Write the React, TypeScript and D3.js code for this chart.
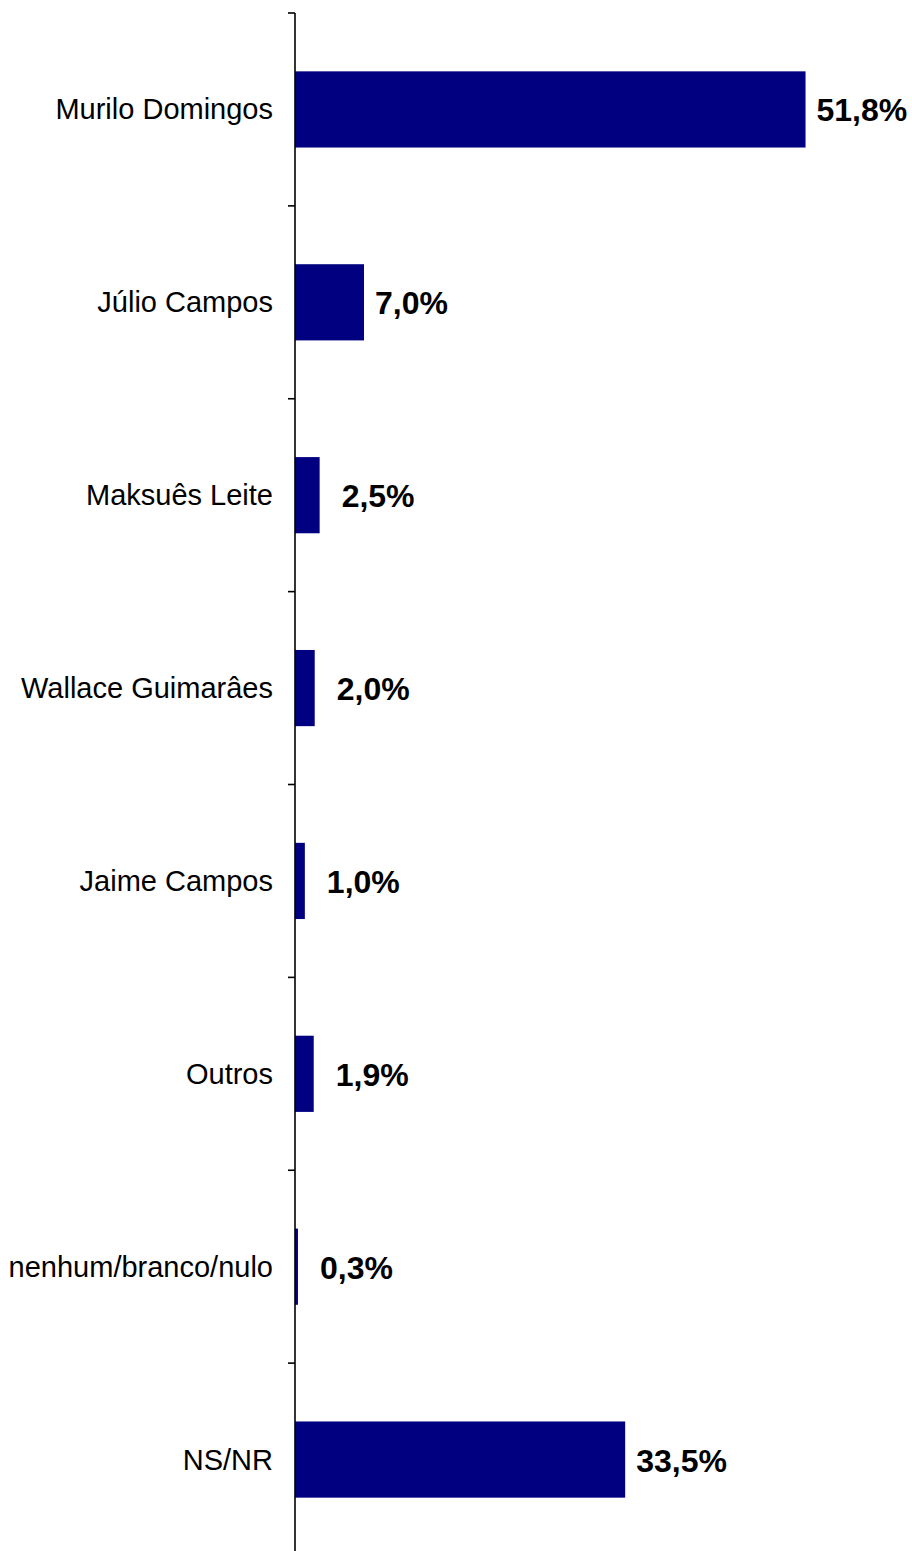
import React from "react";
import * as d3 from "d3";

const categories = [
  "Murilo Domingos",
  "Júlio Campos",
  "Maksuês Leite",
  "Wallace Guimarâes",
  "Jaime Campos",
  "Outros",
  "nenhum/branco/nulo",
  "NS/NR",
];
const values = [51.8, 7.0, 2.5, 2.0, 1.0, 1.9, 0.3, 33.5];
const valueLabels = ["51,8%", "7,0%", "2,5%", "2,0%", "1,0%", "1,9%", "0,3%", "33,5%"];

const W = 912;
const H = 1551;
const axisX = 295;
const top = 13;
const bottom = 1556;

export default function App() {
  const x = d3.scaleLinear().domain([0, 62.4]).range([axisX, 910]);
  const y = d3
    .scaleBand<string>()
    .domain(categories)
    .range([top, bottom])
    .paddingInner(0.605)
    .paddingOuter(0.3025);
  const step = y.step();
  const font = "'Liberation Sans', Arial, sans-serif";
  const ticks = d3.range(categories.length + 1).map((i) => top + i * step);

  return (
    <svg
      width={W}
      height={H}
      style={{ position: "absolute", left: 0, top: 0, background: "#fff" }}
    >
      {categories.map((c, i) => {
        const yc = (y(c) as number) + y.bandwidth() / 2;
        const gap = values[i] < 5 ? 22 : 11;
        return (
          <g key={c}>
            <rect
              x={x(0)}
              y={y(c) as number}
              width={x(values[i]) - x(0)}
              height={y.bandwidth()}
              fill="#000080"
            />
            <text
              x={273}
              y={yc + 10}
              textAnchor="end"
              fontFamily={font}
              fontSize={29}
              fill="#000"
            >
              {c}
            </text>
            <text
              x={x(values[i]) + gap}
              y={yc + 12}
              fontFamily={font}
              fontSize={32}
              fontWeight="bold"
              fill="#000"
            >
              {valueLabels[i]}
            </text>
          </g>
        );
      })}
      <line x1={axisX} x2={axisX} y1={top} y2={bottom} stroke="#000" strokeWidth={1.6} />
      {ticks.map((t, i) => (
        <line key={i} x1={axisX - 7} x2={axisX} y1={t} y2={t} stroke="#000" strokeWidth={1.6} />
      ))}
    </svg>
  );
}
